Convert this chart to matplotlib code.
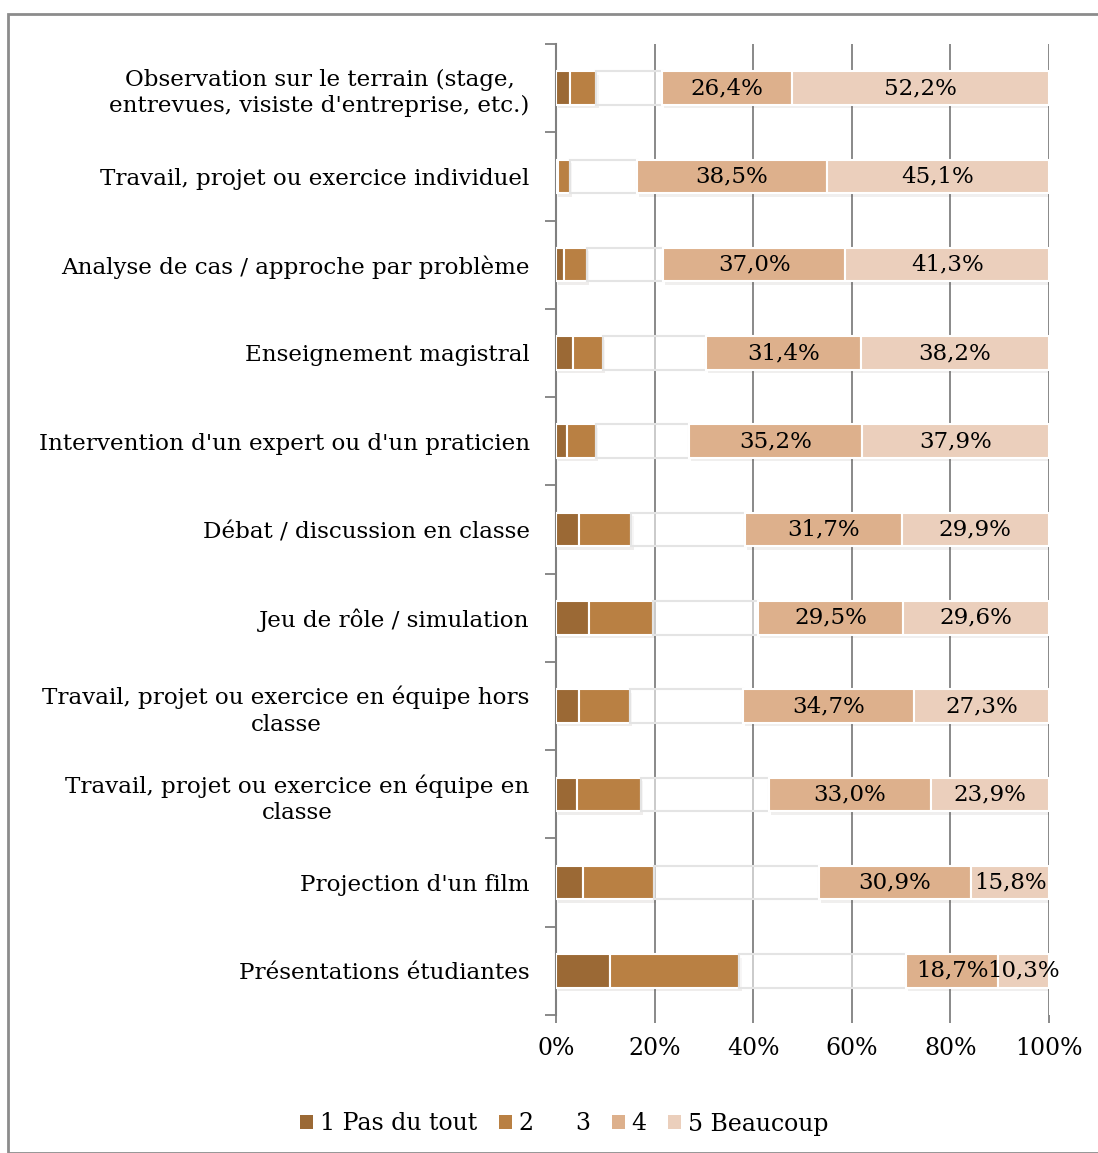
import numpy as np
import matplotlib
matplotlib.use('Agg')
import matplotlib.pyplot as plt
from matplotlib.patches import Rectangle
import matplotlib.patheffects as pe

plt.rcParams['font.family'] = ['DejaVu Serif']

# categories, top to bottom
cats = ["Observation sur le terrain (stage,\nentrevues, visiste d'entreprise, etc.)",
        "Travail, projet ou exercice individuel",
        "Analyse de cas / approche par problème",
        "Enseignement magistral",
        "Intervention d'un expert ou d'un praticien",
        "Débat / discussion en classe",
        "Jeu de rôle / simulation",
        "Travail, projet ou exercice en équipe hors\nclasse",
        "Travail, projet ou exercice en équipe en\nclasse",
        "Projection d'un film",
        "Présentations étudiantes"]

s1 = [2.8, 0.4, 1.6, 3.5, 2.3, 4.7, 6.6, 4.6, 4.3, 5.4, 11.0]
s2 = [5.4, 2.4, 4.6, 6.0, 5.8, 10.6, 13.0, 10.4, 12.9, 14.5, 26.2]
s3 = [13.2, 13.6, 15.5, 20.9, 18.8, 23.1, 21.3, 23.0, 25.9, 33.4, 33.8]
s4 = [26.4, 38.5, 37.0, 31.4, 35.2, 31.7, 29.5, 34.7, 33.0, 30.9, 18.7]
s5 = [52.2, 45.1, 41.3, 38.2, 37.9, 29.9, 29.6, 27.3, 23.9, 15.8, 10.3]

names = ['1 Pas du tout', '2', '3', '4', '5 Beaucoup']
colors = ['#9b6935', '#b98043', (1, 1, 1, 0.55), '#ddb08c', '#ebcfbc']

fig = plt.figure(figsize=(10.98, 11.53), dpi=100)
ax = fig.add_axes([0.5064, 0.1197, 0.4490, 0.8421])

y = np.arange(len(cats))
left = np.zeros(len(cats))
shadow = [pe.SimplePatchShadow(offset=(1.5, -2.5), alpha=0.08), pe.Normal()]
for vals, nm, col in zip([s1, s2, s3, s4, s5], names, colors):
    vals = np.array(vals)
    edge = '#e4e4e4' if nm == '3' else 'white'
    bars = ax.barh(y, vals, left=left, height=0.38, color=col,
                   edgecolor=edge, linewidth=1.5, label=nm, zorder=3)
    if nm != '3':
        for b in bars:
            b.set_path_effects(shadow)
    if nm in ('4', '5 Beaucoup'):
        for yi, l, v in zip(y, left, vals):
            ax.text(l + v / 2, yi, ('%.1f%%' % v).replace('.', ','),
                    ha='center', va='center', fontsize=16.5, zorder=5)
    left += vals

ax.set_xlim(0, 100)
ax.set_ylim(len(cats) - 0.5, -0.5)
ax.set_xticks(np.arange(0, 101, 20))
ax.set_xticklabels(['%d%%' % v for v in range(0, 101, 20)], fontsize=17)
ax.xaxis.grid(True, color='#808080', linewidth=1.3, zorder=0)
ax.set_axisbelow(True)

ax.set_yticks(y)
ax.set_yticklabels(cats, fontsize=16.6, multialignment='center', linespacing=1.25)
ax.set_yticks(np.arange(-0.5, len(cats), 1), minor=True)
ax.tick_params(axis='y', which='major', length=0, pad=19)
ax.tick_params(axis='y', which='minor', length=8, color='#808080', width=1.3)
ax.tick_params(axis='x', length=6, color='#808080', width=1.3, pad=10)

for s in ['top', 'right', 'bottom']:
    ax.spines[s].set_visible(False)
ax.spines['left'].set_color('#808080')
ax.spines['left'].set_linewidth(1.5)

handles, labels = ax.get_legend_handles_labels()
leg = fig.legend(handles, labels, loc='center', ncol=5,
                 bbox_to_anchor=(0.514, 1 - 1124 / 1153), frameon=False,
                 fontsize=17, handlelength=0.55, handleheight=0.55,
                 handletextpad=0.3, columnspacing=0.9)
for h in leg.legend_handles:
    h.set_edgecolor('none')
    h.set_path_effects([])
leg.legend_handles[2].set_facecolor('white')

fig.patches.append(Rectangle((8 / 1098, 0), 1.0, 1 - 14 / 1153,
                             transform=fig.transFigure, fill=False,
                             edgecolor='#8c8c8c', linewidth=2))

fig.savefig('out.png', dpi=100)
